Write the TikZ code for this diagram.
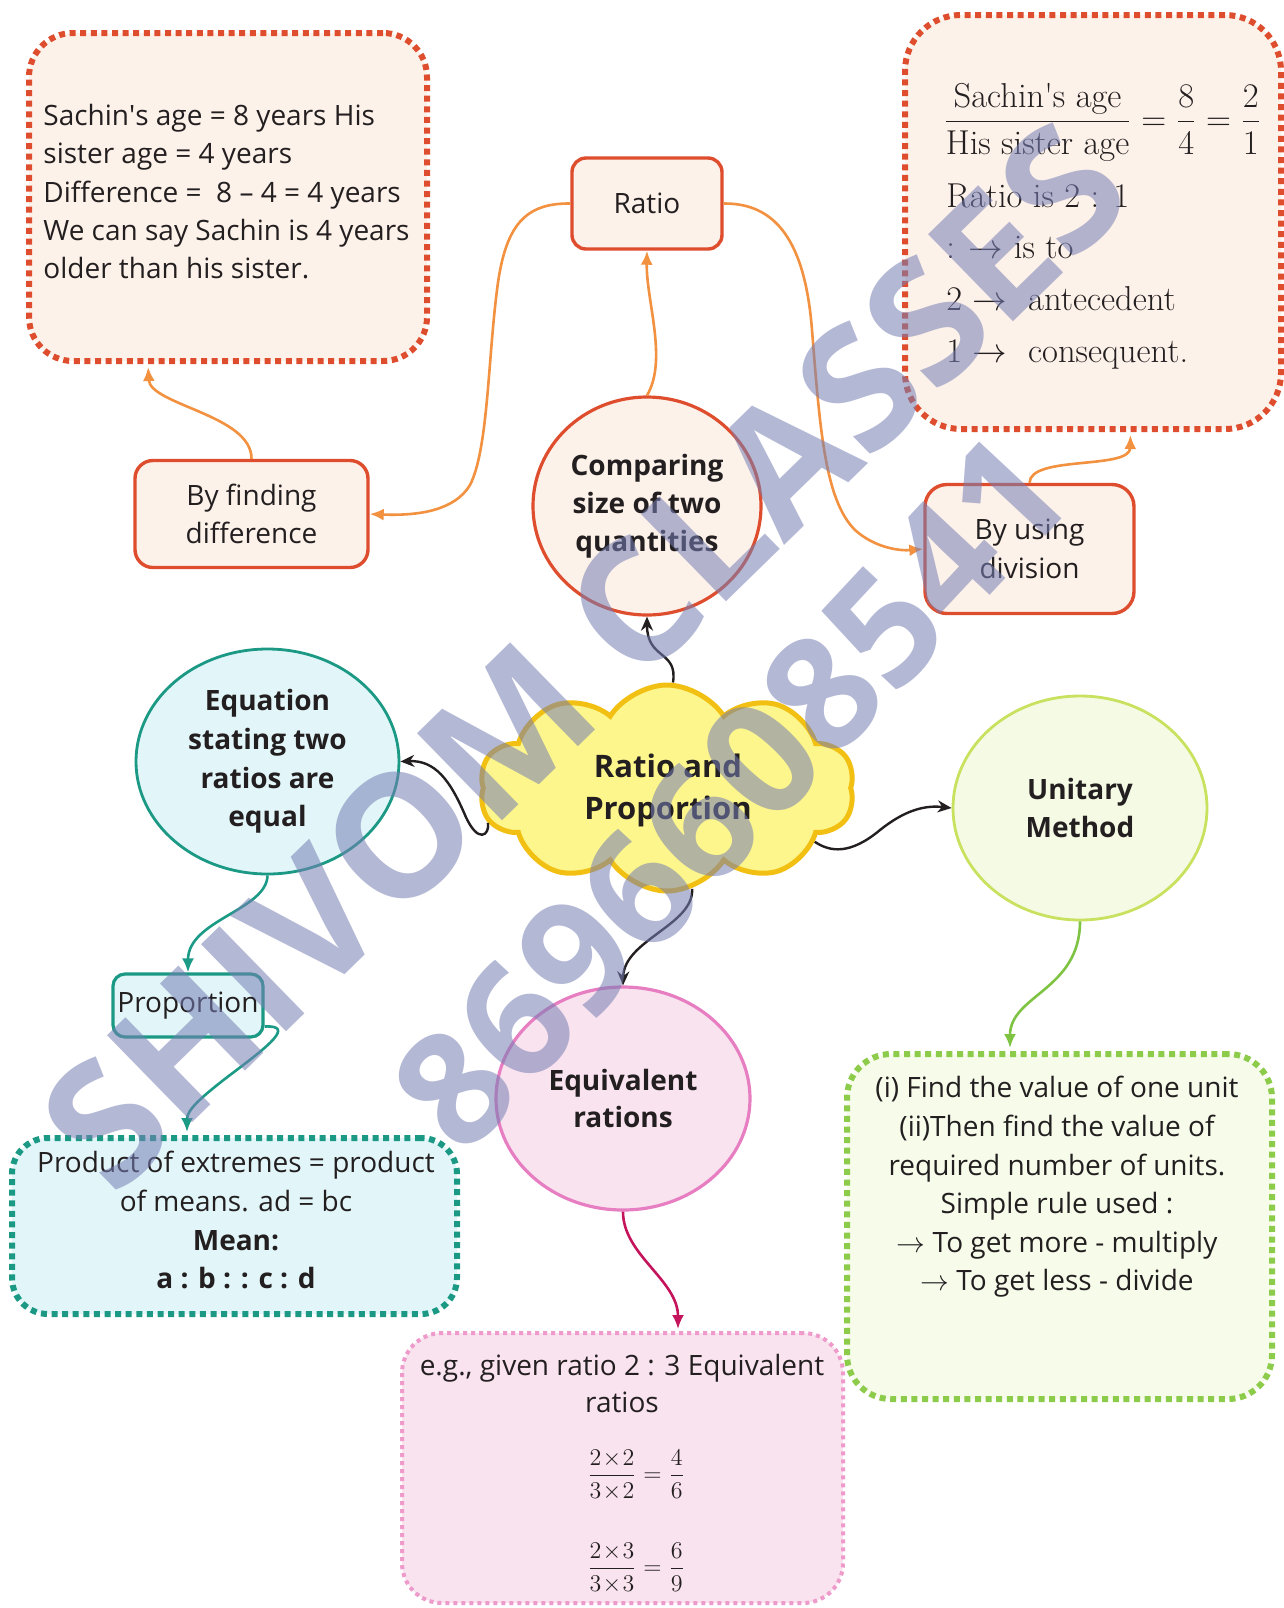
\documentclass[tikz,border=0pt]{standalone}
\usepackage{amsmath}
\usepackage{fontspec}
\setsansfont{Open Sans}
\usetikzlibrary{shapes.geometric,shapes.symbols,arrows.meta}
\definecolor{ink}{HTML}{231F20}
\definecolor{orbd}{HTML}{DE4E2E}
\definecolor{orfill}{HTML}{FDF2EA}
\definecolor{orline}{HTML}{F2913F}
\definecolor{tealbd}{HTML}{1B9985}
\definecolor{tealfill}{HTML}{E2F6F9}
\definecolor{tealline}{HTML}{1B9A86}
\definecolor{cloudfill}{HTML}{FDF68C}
\definecolor{cloudbd}{HTML}{F2C012}
\definecolor{limebd}{HTML}{C8E25F}
\definecolor{limefill}{HTML}{F5FAE5}
\definecolor{greendot}{HTML}{8DCB4B}
\definecolor{greenfill}{HTML}{F6FBEA}
\definecolor{greenline}{HTML}{7FC343}
\definecolor{pinkbd}{HTML}{E77EC2}
\definecolor{pinkfill}{HTML}{F9E3EF}
\definecolor{pinkdot}{HTML}{EE9BCB}
\definecolor{magline}{HTML}{C4145C}
\definecolor{wmark}{RGB}{118,126,180}
\tikzset{
  txt/.style={font=\sffamily\fontsize{14}{19.2}\selectfont, text=ink, inner sep=0pt},
  btxt/.style={font=\sffamily\bfseries\fontsize{14}{18.9}\selectfont, text=ink, align=center, inner sep=0pt},
  sertxt/.style={font=\rmfamily\fontsize{17.28}{20}\selectfont, text=ink, inner sep=0pt},
  solidbox/.style={draw=orbd, fill=orfill, line width=1.7pt},
  dotbox/.style={line width=3pt, dash pattern=on 3pt off 2.3pt},
  oval/.style={ellipse, inner sep=0pt, line width=1.4pt},
  oarrow/.style={draw=orline, line width=1.3pt, -{Latex[length=7pt,width=6pt]}},
  barrow/.style={draw=ink, line width=1.2pt, -{Stealth[length=7pt,width=6pt]}},
  carrow/.style={line width=1.3pt, -{Latex[length=7pt,width=6pt]}}
}
\begin{document}
\begin{tikzpicture}[x=0.5pt,y=-0.5pt]
\useasboundingbox[fill=white] (0,0) rectangle (1284,1608);

% ---------- boxes ----------
\node[dotbox, draw=orbd, fill=orfill, rounded corners=22pt, minimum width=199pt, minimum height=164pt] (tlbox) at (228,197) {};
\node[dotbox, draw=orbd, fill=orfill, rounded corners=28pt, minimum width=188pt, minimum height=207pt] (trbox) at (1093,222) {};
\node[solidbox, rounded corners=7pt, minimum width=75pt, minimum height=45.5pt, txt] (ratio) at (647,203.5) {Ratio};
\node[solidbox, rounded corners=9pt, minimum width=116.5pt, minimum height=53.5pt, txt, align=center] (diff) at (251.5,514) {By finding\\difference};
\node[solidbox, rounded corners=11pt, minimum width=104.5pt, minimum height=64.5pt, txt, align=center] (divi) at (1029.5,549) {By using\\division};
\node[oval, draw=orbd, fill=orfill, line width=1.6pt, minimum width=114pt, minimum height=109pt, btxt] (comp) at (647,506) {Comparing\\size of two\\quantities};
\node[oval, draw=tealbd, fill=tealfill, minimum width=131.5pt, minimum height=112.5pt, btxt, font=\sffamily\bfseries\fontsize{14}{19.3}\selectfont] (equ) at (267.5,761.5) {Equation\\stating two\\ratios are\\equal};
\node[cloud, cloud puffs=10, cloud puff arc=115, aspect=2, draw=cloudbd, fill=cloudfill, line width=2.5pt, inner sep=0pt, minimum width=187.5pt, minimum height=103pt] (cloud) at (667,788) {};
\node[btxt, font=\sffamily\bfseries\fontsize{15.5}{21}\selectfont] (cloudtxt) at (668,790) {Ratio and\\Proportion};
\node[oval, draw=limebd, fill=limefill, minimum width=127pt, minimum height=112pt, btxt] (unit) at (1080,808) {Unitary\\Method};
\node[oval, draw=pinkbd, fill=pinkfill, line width=1.6pt, minimum width=127pt, minimum height=111.5pt, btxt] (equiv) at (623,1098.5) {Equivalent\\rations};
\node[draw=tealbd, fill=tealfill, line width=1.6pt, rounded corners=6pt, minimum width=75pt, minimum height=31.5pt, txt] (prop) at (188,1005.5) {Proportion};
\node[dotbox, draw=tealbd, fill=tealfill, rounded corners=18pt, minimum width=222.5pt, minimum height=88pt] (prodbox) at (234.5,1226) {};
\node[line width=2pt, dash pattern=on 2pt off 2pt, draw=pinkdot, fill=pinkfill, rounded corners=20pt, minimum width=220.5pt, minimum height=135pt] (pinkbox) at (622.5,1468) {};
\node[dotbox, draw=greendot, fill=greenfill, rounded corners=22pt, minimum width=212.5pt, minimum height=172.5pt] (greenbox) at (1059.5,1226.5) {};

% ---------- box texts ----------
\node[txt, anchor=north west, align=left, font=\sffamily\fontsize{14}{19.15}\selectfont] (tltext) at (43,104) {Sachin\textquotesingle s age = 8 years His\\sister age = 4 years\\Difference =\ \ 8 – 4 = 4 years\\We can say Sachin is 4 years\\older than his sister.};
\node[sertxt, anchor=west] (trfrac) at (943,122) {$\displaystyle\frac{\text{Sachin\textquotesingle s age}}{\text{His sister age}}=\frac{8}{4}=\frac{2}{1}$};
\node[sertxt, anchor=base west] (trl1) at (946,207) {Ratio is 2 : 1};
\node[sertxt, anchor=base west] (trl2) at (946,258) {: $\rightarrow$ is to};
\node[sertxt, anchor=base west] (trl3) at (946,310) {2 $\rightarrow$\ \ antecedent};
\node[sertxt, anchor=base west] (trl4) at (946,362) {1 $\rightarrow$\ \ consequent.};
\node[txt, anchor=north, align=center, font=\sffamily\fontsize{14}{19.35}\selectfont] (prodtext) at (236,1151) {Product of extremes = product\\of means. ad = bc\\\textbf{Mean:}\\\textbf{a : b : : c : d}};
\node[txt, anchor=north, align=center, font=\sffamily\fontsize{14}{18.5}\selectfont] (pinktext) at (622,1354) {e.g., given ratio 2 : 3 Equivalent\\ratios};
\node[inner sep=0pt, text=ink, font=\fontsize{12}{15}\selectfont] (frac1) at (636,1475) {$\dfrac{2\!\times\!2}{3\!\times\!2}=\dfrac{4}{6}$};
\node[inner sep=0pt, text=ink, font=\fontsize{12}{15}\selectfont] (frac2) at (636,1568) {$\dfrac{2\!\times\!3}{3\!\times\!3}=\dfrac{6}{9}$};
\node[txt, anchor=north, align=center, font=\sffamily\fontsize{14}{19.3}\selectfont] (greentext) at (1057,1076) {(i) Find the value of one unit\\(ii)Then find the value of\\required number of units.\\Simple rule used :\\$\rightarrow$ To get more - multiply\\$\rightarrow$ To get less - divide};

% ---------- connectors ----------
\draw[oarrow] (comp.north) .. controls (668,360) and (646,300) .. (ratio.south);
\draw[oarrow] (ratio.west) .. controls (525,203) and (505,225) .. (497,290) .. controls (488,360) and (488,450) .. (470,485) .. controls (455,510) and (420,516) .. (diff.east);
\draw[oarrow] (ratio.east) .. controls (775,203) and (805,240) .. (812,330) .. controls (820,430) and (825,500) .. (855,530) .. controls (875,548) and (900,551) .. (divi.west);
\draw[oarrow, shorten >=1.5pt] (diff.north) .. controls (252,415) and (150,405) .. ([xshift=-40pt]tlbox.south);
\draw[oarrow, shorten >=1.5pt] (divi.north) .. controls (1030,455) and (1130,470) .. ([xshift=18.75pt]trbox.south);
\draw[barrow] ([xshift=3pt]cloud.north) .. controls (678,650) and (647,660) .. (comp.south);
\draw[barrow] (cloud.191) .. controls (490,835) and (478,845) .. (465,815) .. controls (450,780) and (435,760) .. (equ.east);
\draw[barrow] (cloud.340) .. controls (830,852) and (850,855) .. (880,830) .. controls (905,810) and (925,805) .. (unit.west);
\draw[barrow] (cloud.284) .. controls (694,925) and (624,940) .. (equiv.north);
\draw[carrow, draw=tealline] (equ.south) .. controls (267,910) and (188,920) .. (prop.north);
\draw[carrow, draw=tealline, shorten >=1.5pt] ([yshift=-10.5pt]prop.east) .. controls (295,1025) and (270,1045) .. (230,1075) .. controls (200,1098) and (187,1110) .. ([xshift=-23.75pt]prodbox.north);
\draw[carrow, draw=magline, shorten >=1pt] (equiv.south) .. controls (623,1255) and (678,1280) .. ([xshift=27.75pt]pinkbox.north);
\draw[carrow, draw=greenline, shorten >=1.5pt] (unit.south) .. controls (1080,990) and (1010,995) .. ([xshift=-24.75pt]greenbox.north);

% ---------- watermark ----------
\node[rotate=44.3, text=wmark, opacity=0.55, inner sep=0pt] (wm1) at (584,656) {\resizebox{715pt}{!}{\sffamily\bfseries SHIVOM CLASSES}};
\node[rotate=47, text=wmark, opacity=0.55, inner sep=0pt] (wm2) at (730,792) {\resizebox{450pt}{!}{\sffamily\bfseries 8696608541}};
\end{tikzpicture}
\end{document}
